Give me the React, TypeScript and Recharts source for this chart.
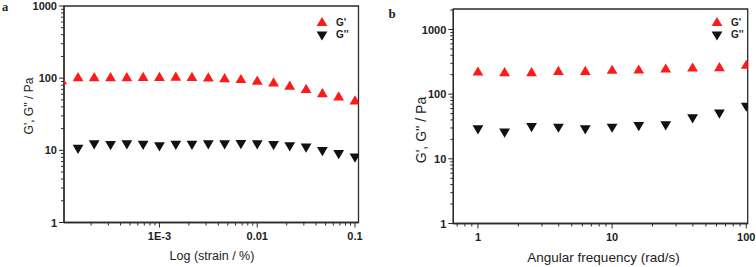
import React from 'react';
import { ScatterChart, Scatter, XAxis, YAxis, ReferenceArea, Legend } from 'recharts';

// ---------- Panel a: strain sweep ----------
const strainGp = [1.0e-4, 1.47e-4, 2.15e-4, 3.16e-4, 4.64e-4, 6.81e-4, 1.0e-3, 1.47e-3, 2.15e-3, 3.16e-3, 4.64e-3, 6.81e-3, 0.01, 0.0147, 0.0215, 0.0316, 0.0464, 0.0681, 0.1];
const gpStrain = [95, 105, 105, 105, 105, 106, 106, 107, 106, 104, 102, 99, 94, 89, 80, 72, 63, 57, 50];
const strainGpp = [1.47e-4, 2.15e-4, 3.16e-4, 4.64e-4, 6.81e-4, 1.0e-3, 1.47e-3, 2.15e-3, 3.16e-3, 4.64e-3, 6.81e-3, 0.01, 0.0147, 0.0215, 0.0316, 0.0464, 0.0681, 0.1];
const gppStrain = [10.3, 11.9, 11.6, 11.9, 11.7, 11.2, 11.7, 11.7, 11.9, 11.9, 12.0, 11.9, 11.6, 11.2, 10.7, 9.6, 8.7, 7.8];

const strainMajorTicks = [0.001, 0.01, 0.1];
const strainMajorLabels = ['1E-3', '0.01', '0.1'];
const strainMinorDecades = [1e-4, 1e-3, 1e-2];

// ---------- Panel b: frequency sweep ----------
const freq = [1, 1.58, 2.51, 3.98, 6.31, 10, 15.8, 25.1, 39.8, 63.1, 100];
const gpFreq = [228, 223, 223, 234, 234, 243, 245, 254, 263, 266, 290];
const gppFreq = [28.0, 24.9, 30.3, 29.7, 28.0, 29.7, 31.5, 32.3, 41.4, 49.0, 62.8];

const freqMajorTicks = [1, 10, 100];
const freqMajorLabels = ['1', '10', '100'];
const freqMinorExtra = [0.7, 0.8, 0.9];
const freqMinorDecades = [1, 10];

// ---------- Modulus axis ----------
const modMajorTicks = [1, 10, 100, 1000];
const modMajorLabels = ['1', '10', '100', '1000'];
const modMinorDecades = [1, 10, 100];
const modMinorExtraB = [2000];

const seriesNames = ["G'", "G''"];
const RED = '#ff1a1a';
const BLACK = '#111111';
const AX = '#2b2b2b';
const FONT = '"Liberation Sans", Arial, Helvetica, sans-serif';

const minors = (decades: number[]) => {
  const out: number[] = [];
  decades.forEach((d) => {
    [2, 3, 4, 5, 6, 7, 8, 9].forEach((m) => out.push(m * d));
  });
  return out;
};

const majorIndex = (v: number, majors: number[]) =>
  majors.findIndex((m) => Math.abs(Math.log10(v) - Math.log10(m)) < 1e-6);

const makeXTick = (majors: number[], labels: string[], baseOff: number) => (props: any) => {
  const { x, y, payload } = props;
  const i = majorIndex(payload.value, majors);
  const major = i >= 0;
  return (
    <g>
      <line x1={x} x2={x} y1={y} y2={y + (major ? 5 : 3)} stroke={AX} strokeWidth={1} />
      {major && (
        <text x={x} y={y + baseOff} textAnchor="middle" fontSize={11} fontWeight="bold" fontFamily={FONT} fill="#222">
          {labels[i]}
        </text>
      )}
    </g>
  );
};

const makeYTick = (majors: number[], labels: string[]) => (props: any) => {
  const { x, y, payload } = props;
  const i = majorIndex(payload.value, majors);
  const major = i >= 0;
  return (
    <g>
      <line x1={x - (major ? 5 : 3)} x2={x} y1={y} y2={y} stroke={AX} strokeWidth={1} />
      {major && (
        <text x={x - 7} y={y + 4} textAnchor="end" fontSize={11} fontWeight="bold" fontFamily={FONT} fill="#222">
          {labels[i]}
        </text>
      )}
    </g>
  );
};

const UpTri = (props: any) => {
  const { cx, cy, fill } = props;
  if (cx == null || cy == null) return null;
  const w = 5.4, h = 9.2;
  return <polygon points={`${cx - w},${cy + h / 2} ${cx + w},${cy + h / 2} ${cx},${cy - h / 2}`} fill={fill} />;
};
const DownTri = (props: any) => {
  const { cx, cy, fill } = props;
  if (cx == null || cy == null) return null;
  const w = 5.4, h = 9.2;
  return <polygon points={`${cx - w},${cy - h / 2} ${cx + w},${cy - h / 2} ${cx},${cy + h / 2}`} fill={fill} />;
};

const XTitle = (props: any) => (
  <text x={props.px} y={props.py} textAnchor="middle" fontSize={props.fs} fontFamily={FONT} fill="#222">
    {props.text}
  </text>
);
const YTitle = (props: any) => (
  <text
    x={props.px}
    y={props.py}
    textAnchor="middle"
    fontSize={props.fs}
    fontFamily={FONT}
    fill="#222"
    transform={`rotate(-90 ${props.px} ${props.py})`}
  >
    {props.text}
  </text>
);

const LegendBox = (props: any) => {
  const items = [
    { name: seriesNames[0], color: RED, up: true },
    { name: seriesNames[1], color: BLACK, up: false },
  ];
  return (
    <svg width={50} height={34} style={{ display: 'block', overflow: 'visible' }}>
      {items.map((it, k) => {
        const cy = k === 0 ? 9.5 : 24;
        const cx = 12;
        return (
          <g key={it.name}>
            {it.up ? <UpTri cx={cx} cy={cy} fill={it.color} /> : <DownTri cx={cx} cy={cy} fill={it.color} />}
            <text x={26} y={k === 0 ? 14 : 25.5} fontSize={10} fontWeight="bold" fontFamily={FONT} fill="#222">
              {it.name}
            </text>
          </g>
        );
      })}
    </svg>
  );
};

const toPts = (xs: number[], ys: number[]) => xs.map((x, i) => ({ x, y: ys[i] }));

export default function App() {
  const strainTicks = [...strainMajorTicks, ...minors(strainMinorDecades)].sort((a, b) => a - b);
  const freqTicks = [...freqMinorExtra, ...freqMajorTicks, ...minors(freqMinorDecades)].sort((a, b) => a - b);
  const modTicksA = [...modMajorTicks, ...minors(modMinorDecades)].sort((a, b) => a - b);
  const modTicksB = [...modMajorTicks, ...minors(modMinorDecades), ...modMinorExtraB].sort((a, b) => a - b);

  const domXA: [number, number] = [1.056e-4, 0.1086];
  const domYA: [number, number] = [1, 1000];
  const domXB: [number, number] = [0.655, 102.5];
  const domYB: [number, number] = [1, 2075];

  return (
    <div style={{ position: 'absolute', left: 0, top: 0, width: 756, height: 267, background: '#fff' }}>
      <svg width={756} height={267} style={{ position: 'absolute', left: 0, top: 0, pointerEvents: 'none' }}>
        <text x={2} y={11} fontSize={12.5} fontWeight="bold" fontFamily='"Liberation Serif", "Times New Roman", serif' fill="#222">a</text>
        <text x={388.5} y={18.3} fontSize={13} fontWeight="bold" fontFamily='"Liberation Serif", "Times New Roman", serif' fill="#222">b</text>
      </svg>

      <div style={{ position: 'absolute', left: 0, top: 0 }}>
        <ScatterChart width={378} height={267} margin={{ top: 6, right: 19.5, bottom: 0, left: 0 }}>
          <XAxis
            type="number"
            dataKey="x"
            scale="log"
            domain={domXA}
            allowDataOverflow
            ticks={strainTicks}
            interval={0}
            tickSize={0}
            tickMargin={0}
            tickLine={false}
            tick={makeXTick(strainMajorTicks, strainMajorLabels, 17.5)}
            axisLine={{ stroke: AX, strokeWidth: 1.3 }}
            height={44.5}
            label={<XTitle px={212} py={260} fs={12.5} text="Log (strain / %)" />}
          />
          <YAxis
            type="number"
            dataKey="y"
            scale="log"
            domain={domYA}
            allowDataOverflow
            ticks={modTicksA}
            interval={0}
            tickSize={0}
            tickMargin={0}
            tickLine={false}
            tick={makeYTick(modMajorTicks, modMajorLabels)}
            axisLine={{ stroke: AX, strokeWidth: 1.3 }}
            width={64}
            label={<YTitle px={32.5} py={106} fs={12} text="G', G'' / Pa" />}
          />
          <ReferenceArea x1={domXA[0]} x2={domXA[1]} y1={domYA[0]} y2={domYA[1]} fill="none" stroke={AX} strokeWidth={1.3} ifOverflow="visible" />
          <Scatter name={seriesNames[0]} data={toPts(strainGp, gpStrain)} fill={RED} shape={UpTri} isAnimationActive={false} />
          <Scatter name={seriesNames[1]} data={toPts(strainGpp, gppStrain)} fill={BLACK} shape={DownTri} isAnimationActive={false} />
          <Legend
            layout="vertical"
            verticalAlign="middle"
            align="center"
            wrapperStyle={{ left: 310, top: 12, width: 50, height: 34 }}
            content={<LegendBox />}
          />
        </ScatterChart>
      </div>

      <div style={{ position: 'absolute', left: 378, top: 0 }}>
        <ScatterChart width={378} height={267} margin={{ top: 9, right: 8.3, bottom: 0, left: 0 }}>
          <XAxis
            type="number"
            dataKey="x"
            scale="log"
            domain={domXB}
            allowDataOverflow
            ticks={freqTicks}
            interval={0}
            tickSize={0}
            tickMargin={0}
            tickLine={false}
            tick={makeXTick(freqMajorTicks, freqMajorLabels, 17)}
            axisLine={{ stroke: AX, strokeWidth: 1.3 }}
            height={43.5}
            label={<XTitle px={225.5} py={261.5} fs={13.5} text="Angular frequency (rad/s)" />}
          />
          <YAxis
            type="number"
            dataKey="y"
            scale="log"
            domain={domYB}
            allowDataOverflow
            ticks={modTicksB}
            interval={0}
            tickSize={0}
            tickMargin={0}
            tickLine={false}
            tick={makeYTick(modMajorTicks, modMajorLabels)}
            axisLine={{ stroke: AX, strokeWidth: 1.3 }}
            width={75.3}
            label={<YTitle px={48} py={130} fs={14} text="G', G'' / Pa" />}
          />
          <ReferenceArea x1={domXB[0]} x2={domXB[1]} y1={domYB[0]} y2={domYB[1]} fill="none" stroke={AX} strokeWidth={1.3} ifOverflow="visible" />
          <Scatter name={seriesNames[0]} data={toPts(freq, gpFreq)} fill={RED} shape={UpTri} isAnimationActive={false} />
          <Scatter name={seriesNames[1]} data={toPts(freq, gppFreq)} fill={BLACK} shape={DownTri} isAnimationActive={false} />
          <Legend
            layout="vertical"
            verticalAlign="middle"
            align="center"
            wrapperStyle={{ left: 327, top: 12, width: 50, height: 34 }}
            content={<LegendBox />}
          />
        </ScatterChart>
      </div>
    </div>
  );
}
